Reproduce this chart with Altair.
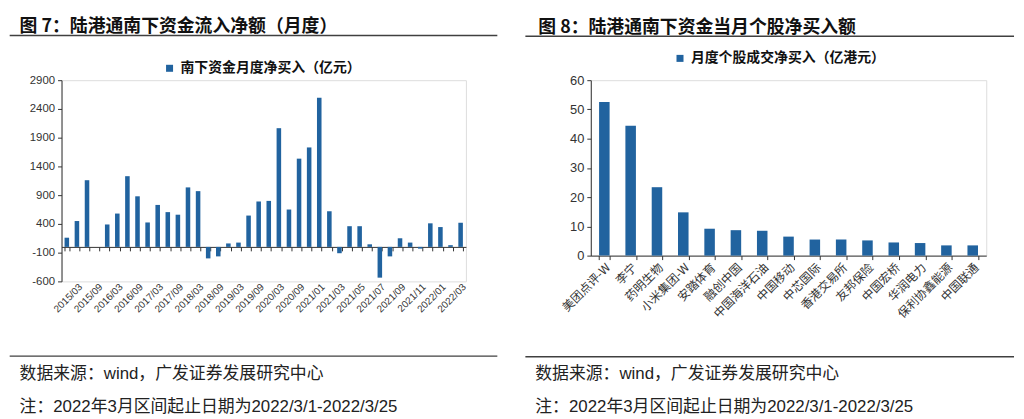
import json
import altair as alt
import pandas as pd

# ---------------- data ----------------
months = [
    "2014/12", "2015/03", "2015/06", "2015/09", "2015/12",
    "2016/03", "2016/06", "2016/09", "2016/12",
    "2017/03", "2017/06", "2017/09", "2017/12",
    "2018/03", "2018/06", "2018/09", "2018/12",
    "2019/03", "2019/06", "2019/09", "2019/12",
    "2020/03", "2020/06", "2020/09", "2020/12",
    "2021/01", "2021/02", "2021/03", "2021/04", "2021/05", "2021/06",
    "2021/07", "2021/08", "2021/09", "2021/10", "2021/11", "2021/12",
    "2022/01", "2022/02", "2022/03",
]
flows = [
    160, 450, 1160, 0, 390,
    580, 1230, 880, 425,
    730, 605, 560, 1035,
    970, -200, -165, 60,
    75, 545, 790, 800,
    2065, 650, 1535, 1730,
    2595, 620, -110, 360, 360, 45,
    -535, -165, 150, 75, -30, 410,
    345, 30, 420,
]
shown_months = [
    "2015/03", "2015/09", "2016/03", "2016/09", "2017/03", "2017/09",
    "2018/03", "2018/09", "2019/03", "2019/09", "2020/03", "2020/09",
    "2021/01", "2021/03", "2021/05", "2021/07", "2021/09", "2021/11",
    "2022/01", "2022/03",
]
left_ticks = [-600, -100, 400, 900, 1400, 1900, 2400, 2900]

stocks = [
    "美团点评-W", "李宁", "药明生物", "小米集团-W", "安踏体育", "融创中国",
    "中国海洋石油", "中国移动", "中芯国际", "香港交易所", "友邦保险",
    "中国宏桥", "华润电力", "保利协鑫能源", "中国联通",
]
buys = [52.5, 44.4, 23.4, 14.8, 9.2, 8.7, 8.5, 6.5, 5.5, 5.5, 5.2, 4.5, 4.3, 3.5, 3.5]
right_ticks = [0, 10, 20, 30, 40, 50, 60]

title_left = "图 7：陆港通南下资金流入净额（月度）"
title_right = "图 8：陆港通南下资金当月个股净买入额"
series_left = "南下资金月度净买入（亿元）"
series_right = "月度个股成交净买入（亿港元）"
source_text = "数据来源：wind，广发证券发展研究中心"
note_text = "注：2022年3月区间起止日期为2022/3/1-2022/3/25"

# ---------------- style ----------------
CJK = "Noto Sans CJK SC"
MIX = "Liberation Sans, Noto Sans CJK SC"
BAR = "#21639f"
INK = "#333333"
RULE = "#404040"


def one(**kw):
    return pd.DataFrame({k: [v] for k, v in kw.items()})


def annotations(px_left, px_right, top_edge, title, title_x, title_base, top_rule,
                bottom_rule, source_y, note_y, foot_x):
    edge = alt.Chart(one(a=1)).mark_rule(opacity=0).encode(
        x=alt.value(px_left), x2=alt.value(px_left + 10), y=alt.value(top_edge)
    )
    t = alt.Chart(one(t=title)).mark_text(
        align="left", baseline="alphabetic", font=CJK, fontSize=18,
        fontWeight="bold", color="#111111"
    ).encode(text="t:N", x=alt.value(title_x), y=alt.value(title_base))
    r1 = alt.Chart(one(a=1)).mark_rule(color=RULE, strokeWidth=1.5).encode(
        x=alt.value(px_left), x2=alt.value(px_right), y=alt.value(top_rule)
    )
    r2 = alt.Chart(one(a=1)).mark_rule(color=RULE, strokeWidth=1.5).encode(
        x=alt.value(px_left), x2=alt.value(px_right), y=alt.value(bottom_rule)
    )
    s = alt.Chart(one(t=source_text)).mark_text(
        align="left", baseline="middle", font=MIX, fontSize=17, color="#222222"
    ).encode(text="t:N", x=alt.value(foot_x), y=alt.value(source_y))
    n = alt.Chart(one(t=note_text)).mark_text(
        align="left", baseline="middle", font=MIX, fontSize=17, color="#222222"
    ).encode(text="t:N", x=alt.value(foot_x), y=alt.value(note_y))
    return [edge, t, r1, r2, s, n]


# ---------------- left panel ----------------
W1, H1 = 408, 203
zero_off = -(H1 - H1 * 2900 / 3500)
left_df = pd.DataFrame({"month": months, "flow": flows, "series": series_left})
label_expr = f"indexof({json.dumps(shown_months, ensure_ascii=False)}, datum.value) >= 0 ? datum.value : ''"

bars_left = alt.Chart(left_df).mark_bar().encode(
    x=alt.X(
        "month:N", sort=months, title=None,
        scale=alt.Scale(paddingInner=0.55, paddingOuter=0.3),
        axis=alt.Axis(
            labelExpr=label_expr, labelAngle=-45, labelFont="Liberation Sans",
            labelFontSize=10, labelColor=INK, labelOverlap=False,
            offset=zero_off, tickBand="extent", tickSize=4, labelPadding=31,
            domainColor=INK, tickColor=INK, domainWidth=1, grid=False,
        ),
    ),
    y=alt.Y(
        "flow:Q", title=None,
        scale=alt.Scale(domain=[-600, 2900], nice=False, zero=False),
        axis=alt.Axis(
            values=left_ticks, labelExpr="'' + datum.value",
            labelFont="Liberation Sans", labelFontSize=11.5,
            labelColor=INK, tickSize=4, tickColor=INK, domainColor=INK,
            grid=False, labelPadding=3,
        ),
    ),
    color=alt.Color(
        "series:N", scale=alt.Scale(range=[BAR]),
        legend=alt.Legend(
            orient="none", legendX=102, legendY=-19, title=None,
            symbolType="square", symbolSize=50, symbolStrokeWidth=0,
            labelFont=CJK, labelFontSize=14, labelFontWeight="bold",
            labelColor="#111111", padding=0, labelLimit=400,
        ),
    ),
)

left = alt.layer(
    bars_left,
    *annotations(-52.3, 439.7, -70.3, title_left, -42.3, -48.6, -45, 278.4,
                 296, 329.5, -42.3),
).properties(width=W1, height=H1)

# ---------------- right panel ----------------
W2, H2 = 399, 177
right_df = pd.DataFrame({"stock": stocks, "buy": buys, "series": series_right})

bars_right = alt.Chart(right_df).mark_bar().encode(
    x=alt.X(
        "stock:N", sort=stocks, title=None,
        scale=alt.Scale(paddingInner=0.6, paddingOuter=0.315),
        axis=alt.Axis(
            labelAngle=-45, labelFont=CJK, labelFontSize=12, labelColor=INK,
            labelOverlap=False, tickBand="extent", tickSize=4, labelPadding=2,
            domainColor=INK, tickColor=INK, grid=False,
        ),
    ),
    y=alt.Y(
        "buy:Q", title=None,
        scale=alt.Scale(domain=[0, 60], nice=False),
        axis=alt.Axis(
            values=right_ticks, labelFont="Liberation Sans", labelFontSize=13,
            labelColor=INK, tickSize=4, tickColor=INK, domainColor=INK,
            grid=False, labelPadding=3,
        ),
    ),
    color=alt.Color(
        "series:N", scale=alt.Scale(range=[BAR]),
        legend=alt.Legend(
            orient="none", legendX=83, legendY=-29, title=None,
            symbolType="square", symbolSize=50, symbolStrokeWidth=0,
            labelFont=CJK, labelFontSize=14, labelFontWeight="bold",
            labelColor="#111111", padding=0, labelLimit=400,
        ),
    ),
)

right = alt.layer(
    bars_right,
    *annotations(-66, 427, -69.7, title_right, -53, -48.0, -44.4, 279,
                 296.6, 330, -56),
).properties(width=W2, height=H2)

chart = alt.hconcat(left, right, spacing=25, padding=0).resolve_scale(
    color="independent"
).configure_view(stroke=None).configure(background="white")

chart.save("out.html", embed_options={"renderer": "svg", "actions": False})
